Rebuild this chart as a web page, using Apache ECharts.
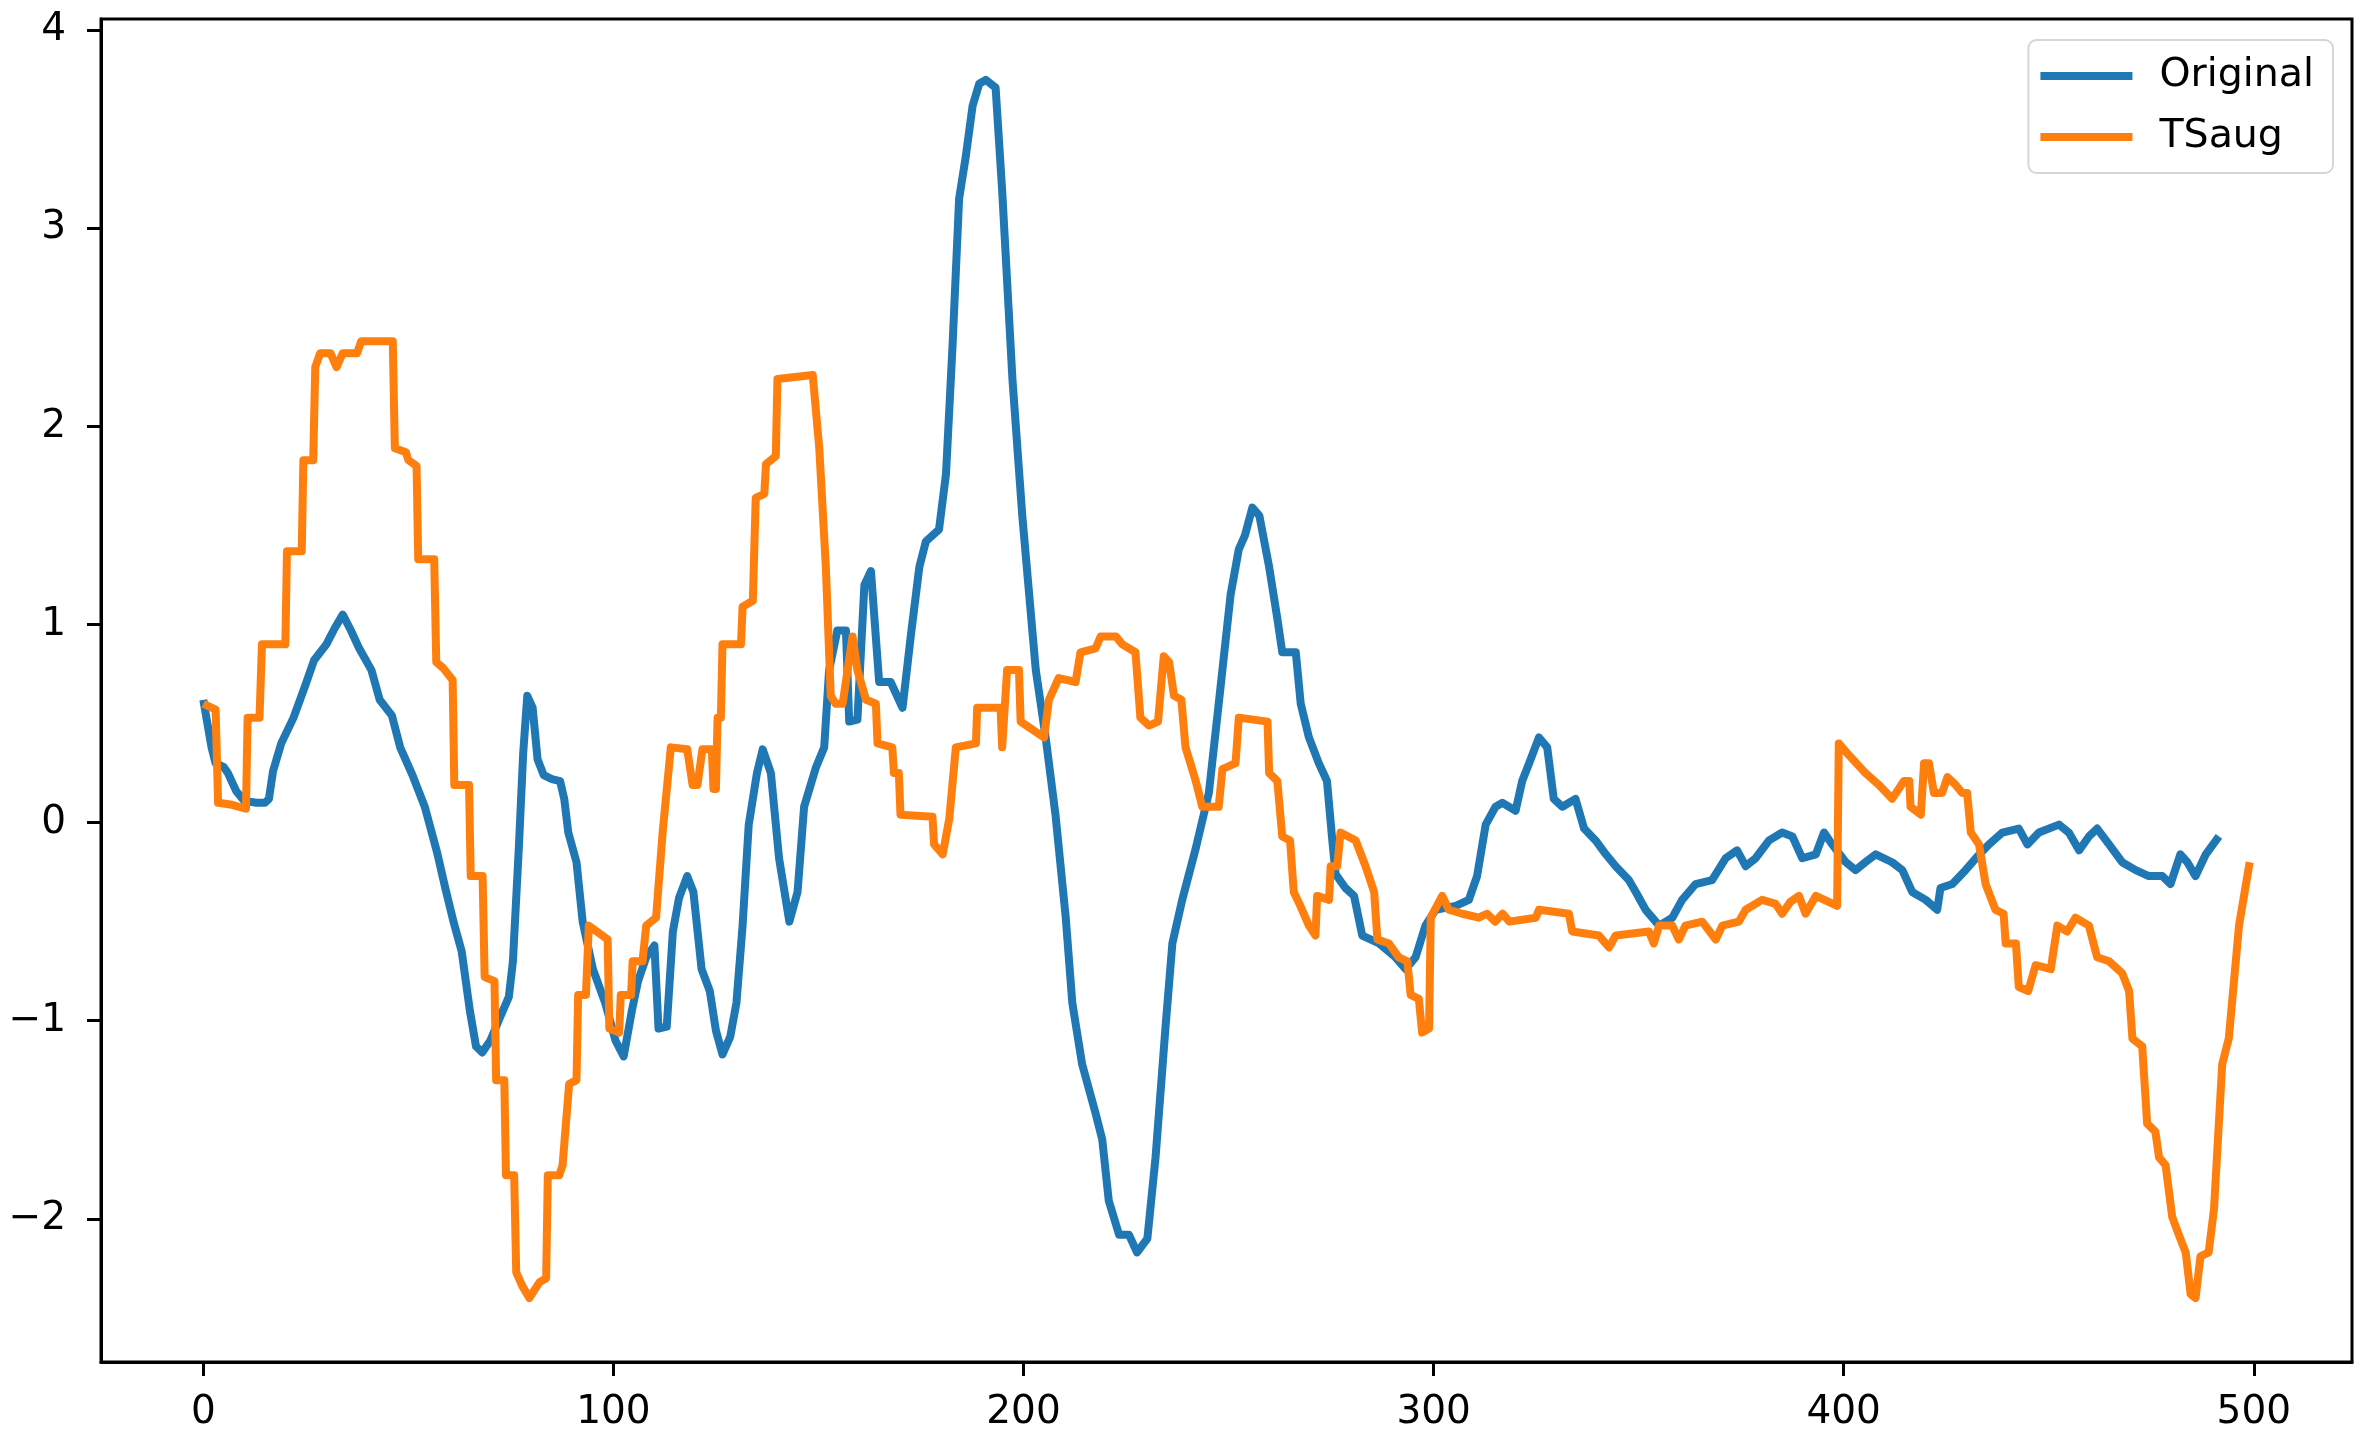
<!DOCTYPE html>
<html>
<head>
<meta charset="utf-8">
<script src="https://cdn.jsdelivr.net/npm/echarts@6/dist/echarts.min.js"></script>
<style>
html,body{margin:0;padding:0;background:#fff;}
#chart{width:2371px;height:1441px;}
</style>
</head>
<body>
<div id="chart"></div>
<script>
const seriesNames = ['Original', 'TSaug'];
const xTicks = [0, 100, 200, 300, 400, 500];
const yTicks = [-2, -1, 0, 1, 2, 3, 4];

const origX = [0,1,2,3,5,6,8,10,13,15,16,17,19,22,25,27,30,32,34,36,38,41,43,46,48,51,54,57,59,61,63,65,66.5,68,70,72,74.5,75.5,77,78,79,80.3,81.5,83,85,87,88,89,91,92.5,95,98,100.5,102.5,104.5,106,108,110,111,113,114.5,116,118,119.5,121.5,123.5,125,126.6,128.5,130,131.5,133,135,136.4,138.4,140.4,142.9,144.9,146.5,149.4,151.4,152.6,154.6,156.7,157.5,159.5,161.2,162.8,164.8,167.6,170.5,172.5,174.6,176.2,179.4,181.1,182.7,184.3,185.9,187.6,189.2,190.8,193.2,194.8,197.3,199.7,203,205.4,207.8,210.3,211.9,214.3,217.6,219.2,220.8,223.3,225.7,227.7,230.2,232.2,234.6,236.3,238.7,242,245.2,247.6,250.5,252.5,254,255.8,257.5,259.9,261.9,263.1,266.4,267.6,269.6,272,274,275.3,276.1,278.5,280.6,282.6,286.7,290.7,293.2,295.6,298,300.5,305.4,308.6,310.6,312.7,315.1,316.8,320,321.6,323.3,325.7,327.7,329.3,331.4,334.6,336.7,339.5,342,344.4,347.6,349.3,351.7,355,358.2,360.6,363.9,367.9,371.2,374,376.1,378.5,381.8,385,387.5,389.9,393.2,395.2,397.2,400.5,402.9,405.3,407.8,411.8,414.3,416.7,420,422.8,423.6,426.5,429.7,432.2,435.4,438.7,442.7,444.8,447.6,452.5,454.9,457.4,459.8,461.8,464.7,467.9,471.2,474.4,477.7,479.7,482.1,483.8,485.8,488.3,491.5];
const origY = [0.62,0.50,0.38,0.30,0.28,0.25,0.16,0.11,0.10,0.10,0.12,0.26,0.40,0.53,0.70,0.82,0.90,0.98,1.05,0.97,0.88,0.77,0.62,0.54,0.38,0.24,0.08,-0.15,-0.33,-0.50,-0.65,-0.95,-1.13,-1.16,-1.10,-1.00,-0.88,-0.70,-0.10,0.35,0.64,0.58,0.32,0.24,0.22,0.21,0.12,-0.05,-0.20,-0.50,-0.74,-0.91,-1.10,-1.18,-0.95,-0.80,-0.68,-0.62,-1.04,-1.03,-0.55,-0.38,-0.27,-0.35,-0.74,-0.85,-1.05,-1.17,-1.08,-0.91,-0.52,-0.01,0.25,0.37,0.25,-0.18,-0.50,-0.35,0.08,0.28,0.38,0.77,0.97,0.97,0.51,0.52,1.20,1.27,0.71,0.71,0.58,0.94,1.29,1.42,1.48,1.76,2.41,3.15,3.36,3.62,3.73,3.75,3.71,3.19,2.24,1.55,0.77,0.43,0.04,-0.48,-0.91,-1.22,-1.47,-1.60,-1.91,-2.08,-2.08,-2.17,-2.10,-1.69,-1.04,-0.61,-0.39,-0.13,0.15,0.60,1.15,1.38,1.45,1.59,1.55,1.29,1.03,0.86,0.86,0.60,0.43,0.30,0.21,-0.09,-0.26,-0.33,-0.37,-0.57,-0.61,-0.68,-0.74,-0.68,-0.52,-0.44,-0.42,-0.39,-0.27,-0.01,0.08,0.10,0.06,0.21,0.30,0.43,0.38,0.12,0.08,0.12,-0.03,-0.09,-0.16,-0.22,-0.29,-0.35,-0.44,-0.52,-0.48,-0.39,-0.31,-0.29,-0.18,-0.14,-0.22,-0.18,-0.09,-0.05,-0.07,-0.18,-0.16,-0.05,-0.11,-0.20,-0.24,-0.20,-0.16,-0.20,-0.24,-0.35,-0.39,-0.44,-0.33,-0.31,-0.24,-0.18,-0.11,-0.05,-0.03,-0.11,-0.05,-0.01,-0.05,-0.14,-0.07,-0.03,-0.11,-0.20,-0.24,-0.27,-0.27,-0.31,-0.16,-0.20,-0.27,-0.16,-0.07];

const augX = [0,3,3.6,7,10.4,10.8,13.7,14.3,20,20.4,24,24.4,26.8,27.3,28.5,31,32.5,34,37.5,38.5,46.2,46.7,49.4,50,52,52.4,56.3,56.8,58.5,60.8,61.2,64.8,65.2,68.1,68.6,71,71.4,73.4,73.8,75.8,76.3,77.8,79.5,82,83.6,84,86.8,87.6,89.2,91,91.4,93.3,94,98.6,99,101.4,101.8,104.3,104.7,107.1,108,110.4,112,114,118,119.3,120.5,121.7,124,124.4,125,125.4,126.2,126.6,131.1,131.5,134,134.7,136.8,137.2,139.6,140,148.6,150.2,151.8,153,154.2,155.9,158.3,159.5,161.6,164,164.4,168,168.4,169.6,170,177.8,178.2,180.3,181.9,183.5,188.4,188.7,194.4,194.8,196,198.9,199.3,205,206.2,208.6,212.7,213.9,217.6,218.8,222.5,224.1,227.3,228.5,230.6,232.8,234.2,235.5,236.7,238.5,239.5,240.7,242,243.6,247.6,248.5,251.7,252.5,259.5,259.9,261.9,263.1,265,265.9,267.5,269.6,271.2,271.6,274.5,274.9,276.5,277.3,281,283.4,285.5,286.3,289.1,291.5,293.6,294.4,296.4,297.2,298.9,299.3,302.1,303.7,307,311,313,315,316.8,318.5,324.9,325.7,333,333.8,340.3,342.8,344.4,352.5,353.7,355,358.2,359.8,361.4,365.5,368.8,370.4,374.4,376.1,380.1,383.4,385,387,389.1,390.7,393.2,398.4,398.8,401.3,405.3,408.6,411.8,414.7,416,416.3,418.8,419.6,420.8,422,424,425.3,427.3,428.9,430.1,431,433,434.6,437,439,439.5,442,442.7,445,446.8,450.5,452.1,454.5,456.5,459.8,461.8,464.7,467.9,469.6,470.4,472.8,474,476,476.9,478.5,480.1,481.7,483.4,484.6,485.8,487,489,490.3,492.3,493.9,496.4,499];
const augY = [0.60,0.57,0.10,0.09,0.07,0.53,0.53,0.90,0.90,1.37,1.37,1.83,1.83,2.30,2.37,2.37,2.30,2.37,2.37,2.43,2.43,1.89,1.87,1.83,1.80,1.33,1.33,0.81,0.78,0.72,0.19,0.19,-0.27,-0.27,-0.78,-0.80,-1.30,-1.30,-1.78,-1.78,-2.27,-2.34,-2.40,-2.32,-2.30,-1.78,-1.78,-1.73,-1.32,-1.30,-0.87,-0.87,-0.52,-0.59,-1.04,-1.06,-0.87,-0.87,-0.70,-0.70,-0.52,-0.48,-0.05,0.38,0.37,0.19,0.19,0.37,0.37,0.17,0.17,0.53,0.53,0.90,0.90,1.09,1.12,1.64,1.66,1.81,1.85,2.24,2.26,1.89,1.29,0.64,0.60,0.60,0.94,0.77,0.62,0.60,0.40,0.38,0.25,0.25,0.04,0.03,-0.11,-0.16,0.02,0.38,0.40,0.58,0.58,0.38,0.77,0.77,0.51,0.43,0.62,0.73,0.71,0.86,0.88,0.94,0.94,0.90,0.86,0.53,0.49,0.51,0.84,0.81,0.64,0.62,0.38,0.30,0.21,0.08,0.08,0.27,0.30,0.53,0.51,0.25,0.21,-0.07,-0.09,-0.35,-0.42,-0.52,-0.57,-0.37,-0.39,-0.22,-0.22,-0.05,-0.09,-0.22,-0.35,-0.59,-0.61,-0.68,-0.70,-0.87,-0.89,-1.06,-1.04,-0.48,-0.37,-0.44,-0.46,-0.48,-0.46,-0.50,-0.46,-0.50,-0.48,-0.44,-0.46,-0.55,-0.57,-0.63,-0.57,-0.55,-0.61,-0.52,-0.52,-0.59,-0.52,-0.50,-0.59,-0.52,-0.50,-0.44,-0.39,-0.41,-0.46,-0.40,-0.37,-0.46,-0.37,-0.42,0.40,0.34,0.25,0.19,0.12,0.21,0.21,0.08,0.04,0.30,0.30,0.15,0.15,0.23,0.19,0.15,0.15,-0.05,-0.11,-0.31,-0.44,-0.46,-0.61,-0.61,-0.83,-0.85,-0.72,-0.74,-0.52,-0.55,-0.48,-0.52,-0.68,-0.70,-0.76,-0.85,-1.09,-1.13,-1.52,-1.56,-1.69,-1.73,-1.99,-2.08,-2.17,-2.38,-2.40,-2.19,-2.17,-1.95,-1.22,-1.09,-0.52,-0.20];

function pairs(xs, ys) { return xs.map((x, i) => [x, ys[i]]); }

const FONT = '"DejaVu Sans", sans-serif';
const chart = echarts.init(document.getElementById('chart'), null, { renderer: 'canvas' });
chart.setOption({
  animation: false,
  backgroundColor: '#ffffff',
  grid: { left: 101, top: 19, width: 2251, height: 1343, show: true, borderColor: '#000', borderWidth: 3, backgroundColor: 'transparent' },
  legend: {
    data: seriesNames,
    orient: 'vertical',
    right: 38,
    top: 40,
    icon: 'rect',
    itemWidth: 92,
    itemHeight: 8,
    itemGap: 17,
    padding: [14, 19, 14, 12],
    borderColor: 'rgba(204,204,204,0.8)',
    borderWidth: 2,
    borderRadius: 8,
    backgroundColor: 'rgba(255,255,255,0.8)',
    textStyle: { fontSize: 39.5, fontFamily: FONT, color: '#000', lineHeight: 44, padding: [0, 0, 0, 22] }
  },
  xAxis: {
    type: 'value', min: -24.95, max: 523.95,
    axisLine: { show: true, onZero: false, lineStyle: { color: '#000', width: 3 } },
    axisTick: { show: true, length: 14, customValues: xTicks, lineStyle: { color: '#000', width: 3 } },
    axisLabel: { customValues: xTicks, fontSize: 39, fontFamily: FONT, color: '#000', margin: 31, formatter: v => String(v) },
    splitLine: { show: false }
  },
  yAxis: {
    type: 'value', min: -2.723, max: 4.057,
    axisLine: { show: true, onZero: false, lineStyle: { color: '#000', width: 3 } },
    axisTick: { show: true, length: 14, customValues: yTicks, lineStyle: { color: '#000', width: 3 } },
    axisLabel: { customValues: yTicks, fontSize: 39, fontFamily: FONT, color: '#000', margin: 35, formatter: v => (v < 0 ? '\u2212' + Math.abs(v) : String(v)) },
    splitLine: { show: false }
  },
  series: [
    { name: seriesNames[0], type: 'line', data: pairs(origX, origY), showSymbol: false, symbol: 'none',
      itemStyle: { color: '#1f77b4' }, lineStyle: { color: '#1f77b4', width: 8, join: 'round', cap: 'butt' }, z: 2 },
    { name: seriesNames[1], type: 'line', data: pairs(augX, augY), showSymbol: false, symbol: 'none',
      itemStyle: { color: '#ff7f0e' }, lineStyle: { color: '#ff7f0e', width: 8, join: 'round', cap: 'butt' }, z: 3 }
  ]
});
</script>
</body>
</html>
